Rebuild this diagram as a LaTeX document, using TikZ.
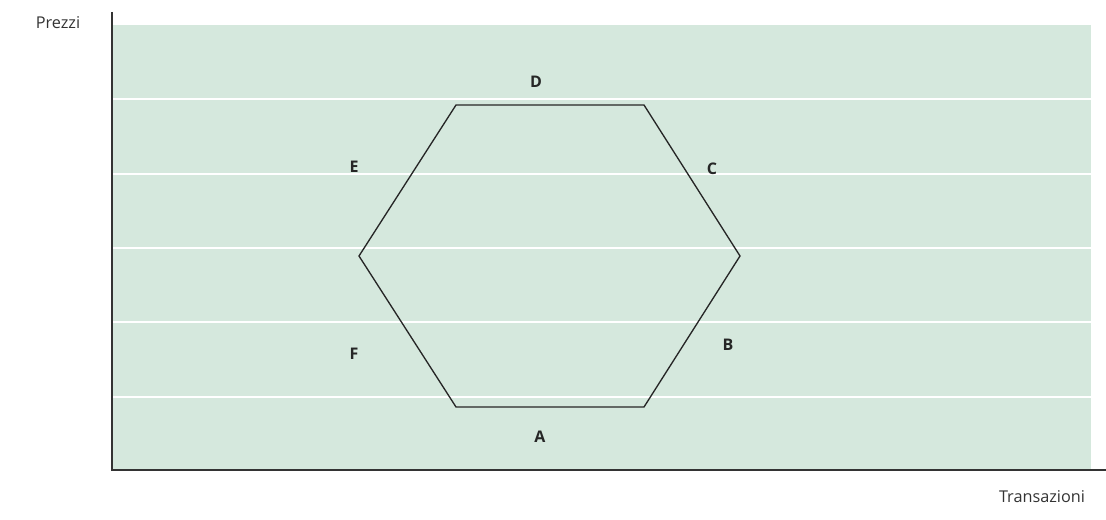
\documentclass[tikz,border=0pt]{standalone}
\usepackage{fontspec}
\setmainfont{Open Sans}
\usetikzlibrary{positioning}
\definecolor{pale}{RGB}{213,232,221}

\begin{document}
\begin{tikzpicture}[x=0.75pt,y=-0.75pt,
    side/.style={font=\fontsize{12}{14}\selectfont\bfseries,text=black!85},
    axislabel/.style={font=\fontsize{12.2}{14}\selectfont,text=black!80}]
  \useasboundingbox (0,0) rectangle (1106,520);
  % plot area
  \fill[pale] (113,25) rectangle (1091,469);
  \foreach \y in {99,174,248,322,397}{
    \draw[white,line width=1.2pt] (113,\y) -- (1091,\y);
  }
  % axes
  \coordinate (top) at (112,12);
  \coordinate (origin) at (112,470);
  \coordinate (far) at (1106,470);
  \draw[black!80,line width=1pt] (top) -- (origin) -- (far);
  % hexagon
  \coordinate (p1) at (456,105);
  \coordinate (p2) at (644,105);
  \coordinate (p3) at (740,256);
  \coordinate (p4) at (644,407);
  \coordinate (p5) at (456,407);
  \coordinate (p6) at (359,256);
  \draw[black!85,line width=1pt] (p1) -- (p2) -- (p3) -- (p4) -- (p5) -- (p6) -- cycle;
  % labels
  \node[side] (d) at (536,82) {D};
  \node[side] (c) at (712,169) {C};
  \node[side] (b) at (728,345) {B};
  \node[side] (a) at (540,437) {A};
  \node[side] (f) at (354,354) {F};
  \node[side] (e) at (354,167) {E};
  \node[axislabel] (prezzi) at (58,23) {Prezzi};
  \node[axislabel] (transazioni) at (1042,497) {Transazioni};
\end{tikzpicture}
\end{document}
